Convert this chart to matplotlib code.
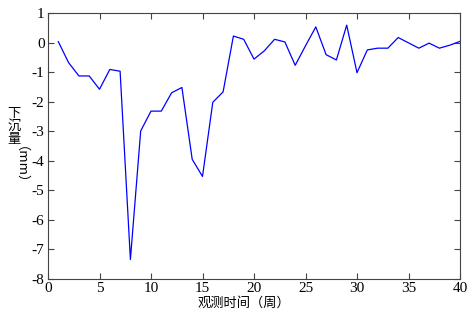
import matplotlib
matplotlib.use("Agg")
import matplotlib.pyplot as plt

weeks = list(range(1, 41))
subsidence = [0.03, -0.68, -1.13, -1.13, -1.58, -0.91, -0.97, -7.34, -2.99, -2.32,
              -2.32, -1.70, -1.52, -3.95, -4.53, -2.02, -1.67, 0.22, 0.11, -0.56,
              -0.28, 0.11, 0.02, -0.77, -0.11, 0.53, -0.41, -0.59, 0.59, -1.02,
              -0.25, -0.19, -0.19, 0.17, -0.01, -0.19, -0.02, -0.19, -0.09, 0.04]
xticks = [0, 5, 10, 15, 20, 25, 30, 35, 40]
yticks = [1, 0, -1, -2, -3, -4, -5, -6, -7, -8]
xlabel = '观测时间（周）'
ylabel_chars = ['下', '沉', '量']
ylabel_unit = '（mm）'

plt.rcParams['font.family'] = ['Liberation Serif', 'Noto Sans CJK SC']
plt.rcParams['axes.unicode_minus'] = False

W, H = 472, 316
fig = plt.figure(figsize=(W/100, H/100), dpi=100)
ax = fig.add_axes([48/W, 1-279/H, (460-48)/W, (279-13)/H])
ax.plot(weeks, subsidence, color='#0000ff', lw=0.9)
ax.set_xlim(0, 40)
ax.set_ylim(-8, 1)
ax.set_xticks(xticks)
ax.set_yticks(yticks)
ax.tick_params(direction='in', top=True, right=True, labelsize=11, length=4, width=0.8, pad=2.5,
               labelcolor='black', color='#444444')
for s in ax.spines.values():
    s.set_linewidth(0.8)
    s.set_color('#444444')

cjk = ['Noto Sans CJK SC', 'Liberation Serif']
fig.text(244/W, 1-303/H, xlabel, fontsize=9.5, family=cjk, ha='center', va='center')
for i, ch in enumerate(ylabel_chars):
    fig.text(14/W, 1-(114+12.5*i)/H, ch, fontsize=9.5, family=cjk, ha='center', va='center')
fig.text(14/W, 1-172/H, ylabel_unit, fontsize=9.5, family=cjk, ha='center', va='center',
         rotation=270)
fig.savefig('out.png', dpi=100)
